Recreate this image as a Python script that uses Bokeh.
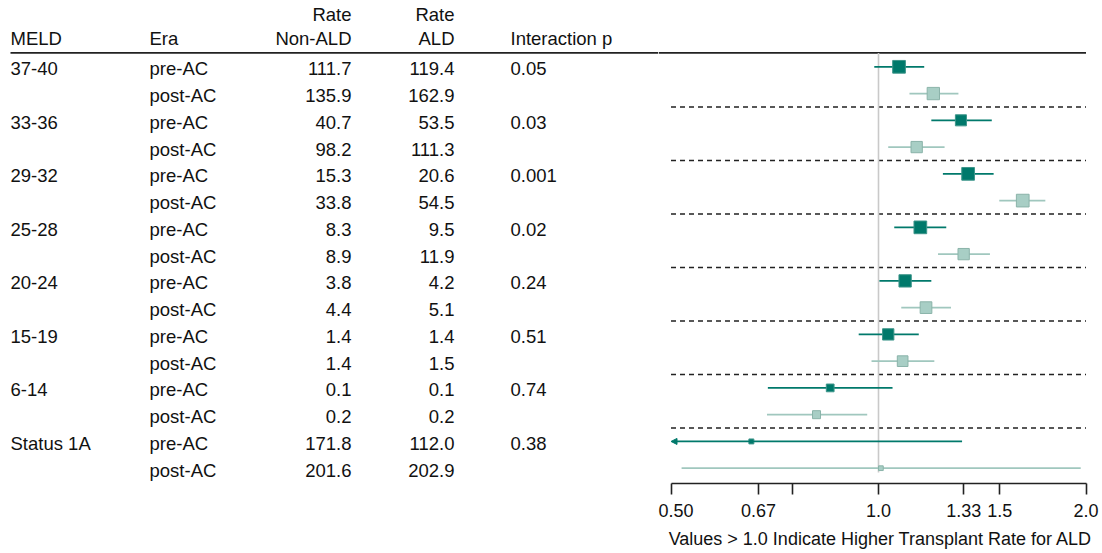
import math
from bokeh.plotting import figure
from bokeh.layouts import row
from bokeh.models import Range1d, FixedTicker, ColumnDataSource, Arrow, NormalHead
from bokeh.embed import file_html
from bokeh.resources import INLINE
from bokeh.core.properties import value

# ---------------- data ----------------
meld_groups = ["37-40", "33-36", "29-32", "25-28", "20-24", "15-19", "6-14", "Status 1A"]
era_labels = ["pre-AC", "post-AC"]
rate_non_ald = [111.7, 135.9, 40.7, 98.2, 15.3, 33.8, 8.3, 8.9,
                3.8, 4.4, 1.4, 1.4, 0.1, 0.2, 171.8, 201.6]
rate_ald = [119.4, 162.9, 53.5, 111.3, 20.6, 54.5, 9.5, 11.9,
            4.2, 5.1, 1.4, 1.5, 0.1, 0.2, 112.0, 202.9]
interaction_p = ["0.05", "0.03", "0.001", "0.02", "0.24", "0.51", "0.74", "0.38"]
ratio = [1.071, 1.201, 1.317, 1.136, 1.349, 1.619, 1.150, 1.329,
         1.093, 1.172, 1.033, 1.084, 0.851, 0.813, 0.654, 1.008]
ci_low = [0.986, 1.109, 1.193, 1.033, 1.240, 1.497, 1.054, 1.220,
          1.003, 1.079, 0.936, 0.977, 0.691, 0.689, 0.400, 0.518]
ci_high = [1.165, 1.306, 1.460, 1.247, 1.469, 1.746, 1.254, 1.451,
           1.193, 1.274, 1.144, 1.205, 1.048, 0.963, 1.322, 1.965]
box_weight = [1.00, 0.97, 0.87, 0.89, 1.00, 1.00, 1.00, 0.89,
              0.97, 0.92, 0.89, 0.84, 0.61, 0.63, 0.39, 0.37]
tick_values = [0.5, 0.67, 0.75, 1.0, 1.33, 1.5, 2.0]
tick_labels = ["0.50", "0.67", "", "1.0", "1.33", "1.5", "2.0"]
x_title = "Values > 1.0 Indicate Higher Transplant Rate for ALD"

# ---------------- style / layout ----------------
FONT = "Liberation Sans"
FSIZE = "18.5px"
AX_FSIZE = "18px"
TXT = "#111111"
PRE = "#00796b"
PRE_EDGE = "#3d958a"
POST_FILL = "#a8cec5"
POST_EDGE = "#8ab3a9"
POST_LINE = "#a0c7be"
REF = "#c9c9c9"
INK = "#222222"
BOX_MAX = 12.7

W_TOTAL, H = 1102, 553
LEFT_W = 658
RIGHT_W = W_TOTAL - LEFT_W
BOTTOM = 70
FRAME_H = H - BOTTOM
ROW_PX = 26.76
FIRST_ROW_PX = 66.3
TEXT_SHIFT = 0.075
HDR1_Y, HDR2_Y, HDR_LINE_Y = -0.94, -0.06, 0.48
REF_END_Y = 16.16
AXIS_MIN, AXIS_MAX = tick_values[0], tick_values[-1]
AX_LO_PX, AX_HI_PX = 12.5, 427.5

n = len(ratio)
rows = list(range(1, n + 1))
y_top = 1 - FIRST_ROW_PX / ROW_PX
y_bot = y_top + FRAME_H / ROW_PX
yr = Range1d(y_bot, y_top)

px_per_log = (AX_HI_PX - AX_LO_PX) / (math.log2(AXIS_MAX) - math.log2(AXIS_MIN))
x_start = 2 ** (math.log2(AXIS_MIN) - AX_LO_PX / px_per_log)
x_end = 2 ** (math.log2(AXIS_MAX) + (RIGHT_W - AX_HI_PX) / px_per_log)

common = dict(height=H, output_backend="svg", toolbar_location=None,
              min_border_left=0, min_border_right=0, min_border_top=0,
              min_border_bottom=BOTTOM, outline_line_color=None,
              background_fill_color="white", border_fill_color="white")

# ---------------- left table ----------------
left = figure(width=LEFT_W, x_range=Range1d(0, LEFT_W), y_range=yr,
              x_axis_location=None, y_axis_location=None, **common)
left.grid.visible = False

COL_MELD, COL_ERA, COL_NON, COL_ALD, COL_P = 10, 149, 351, 454, 510

def put_text(fig, xs, ys, texts, align):
    src = ColumnDataSource(dict(x=xs, y=ys, t=texts))
    fig.text(x="x", y="y", text="t", source=src, text_align=align,
             text_baseline="middle", text_font=value(FONT),
             text_font_size=FSIZE, text_color=TXT)

ty = [r + TEXT_SHIFT for r in rows]
grp_y = [ty[2 * g] for g in range(len(meld_groups))]
era_txt = [era_labels[i % 2] for i in range(n)]

put_text(left, [COL_MELD] * len(meld_groups), grp_y, meld_groups, "left")
put_text(left, [COL_ERA] * n, ty, era_txt, "left")
put_text(left, [COL_NON] * n, ty, [f"{v:.1f}" for v in rate_non_ald], "right")
put_text(left, [COL_ALD] * n, ty, [f"{v:.1f}" for v in rate_ald], "right")
put_text(left, [COL_P] * len(interaction_p), grp_y, interaction_p, "left")

put_text(left, [COL_MELD, COL_ERA, COL_P], [HDR2_Y] * 3, ["MELD", "Era", "Interaction p"], "left")
put_text(left, [COL_NON, COL_ALD, COL_NON, COL_ALD], [HDR1_Y, HDR1_Y, HDR2_Y, HDR2_Y],
         ["Rate", "Rate", "Non-ALD", "ALD"], "right")

left.segment(x0=[COL_MELD], y0=[HDR_LINE_Y], x1=[LEFT_W], y1=[HDR_LINE_Y],
             line_color=INK, line_width=1.6)

# ---------------- right forest plot ----------------
right = figure(width=RIGHT_W, x_axis_type="log", x_range=Range1d(x_start, x_end),
               y_range=yr, y_axis_location=None, **common)
right.grid.visible = False

right.segment(x0=[x_start], y0=[HDR_LINE_Y], x1=[AXIS_MAX], y1=[HDR_LINE_Y],
              line_color=INK, line_width=1.6)

sep_y = [2 * g + 2.5 for g in range(len(meld_groups) - 1)]
right.segment(x0=[AXIS_MIN] * len(sep_y), y0=sep_y, x1=[AXIS_MAX] * len(sep_y), y1=sep_y,
              line_color=INK, line_width=1.6, line_dash="5 4")

right.segment(x0=[1.0], y0=[HDR_LINE_Y], x1=[1.0], y1=[REF_END_Y],
              line_color=REF, line_width=1.6)

for k, (lc, fc, ec) in enumerate([(PRE, PRE, PRE_EDGE), (POST_LINE, POST_FILL, POST_EDGE)]):
    idx = [i for i in range(n) if i % 2 == k]
    inside = [i for i in idx if ci_low[i] >= AXIS_MIN]
    clipped = [i for i in idx if ci_low[i] < AXIS_MIN]
    right.segment(x0=[ci_low[i] for i in inside], y0=[rows[i] for i in inside],
                  x1=[ci_high[i] for i in inside], y1=[rows[i] for i in inside],
                  line_color=lc, line_width=1.8)
    for i in clipped:
        right.add_layout(Arrow(x_start=ci_high[i], y_start=rows[i], x_end=AXIS_MIN, y_end=rows[i],
                               line_color=lc, line_width=1.8,
                               end=NormalHead(size=6, fill_color=lc, line_color=lc)))
    right.scatter(x=[ratio[i] for i in idx], y=[rows[i] for i in idx],
                  size=[box_weight[i] * BOX_MAX for i in idx], marker="square",
                  fill_color=fc, line_color=ec, line_width=1)

ax = right.xaxis[0]
ax.ticker = FixedTicker(ticks=tick_values, minor_ticks=[])
ax.major_label_overrides = {v: l for v, l in zip(tick_values, tick_labels)}
ax.bounds = (AXIS_MIN, AXIS_MAX)
ax.axis_line_color = INK
ax.axis_line_width = 1.6
ax.major_tick_line_color = INK
ax.major_tick_line_width = 1.6
ax.major_tick_in = 0
ax.major_tick_out = 11
ax.minor_tick_line_color = None
ax.major_label_standoff = 9
ax.major_label_text_font = FONT
ax.major_label_text_font_size = AX_FSIZE
ax.major_label_text_color = TXT
ax.axis_label = x_title
ax.axis_label_standoff = 9
ax.axis_label_text_font = FONT
ax.axis_label_text_font_size = AX_FSIZE
ax.axis_label_text_font_style = "normal"
ax.axis_label_text_color = TXT

layout = row(left, right)
open("out.html", "w").write(file_html(layout, INLINE))
